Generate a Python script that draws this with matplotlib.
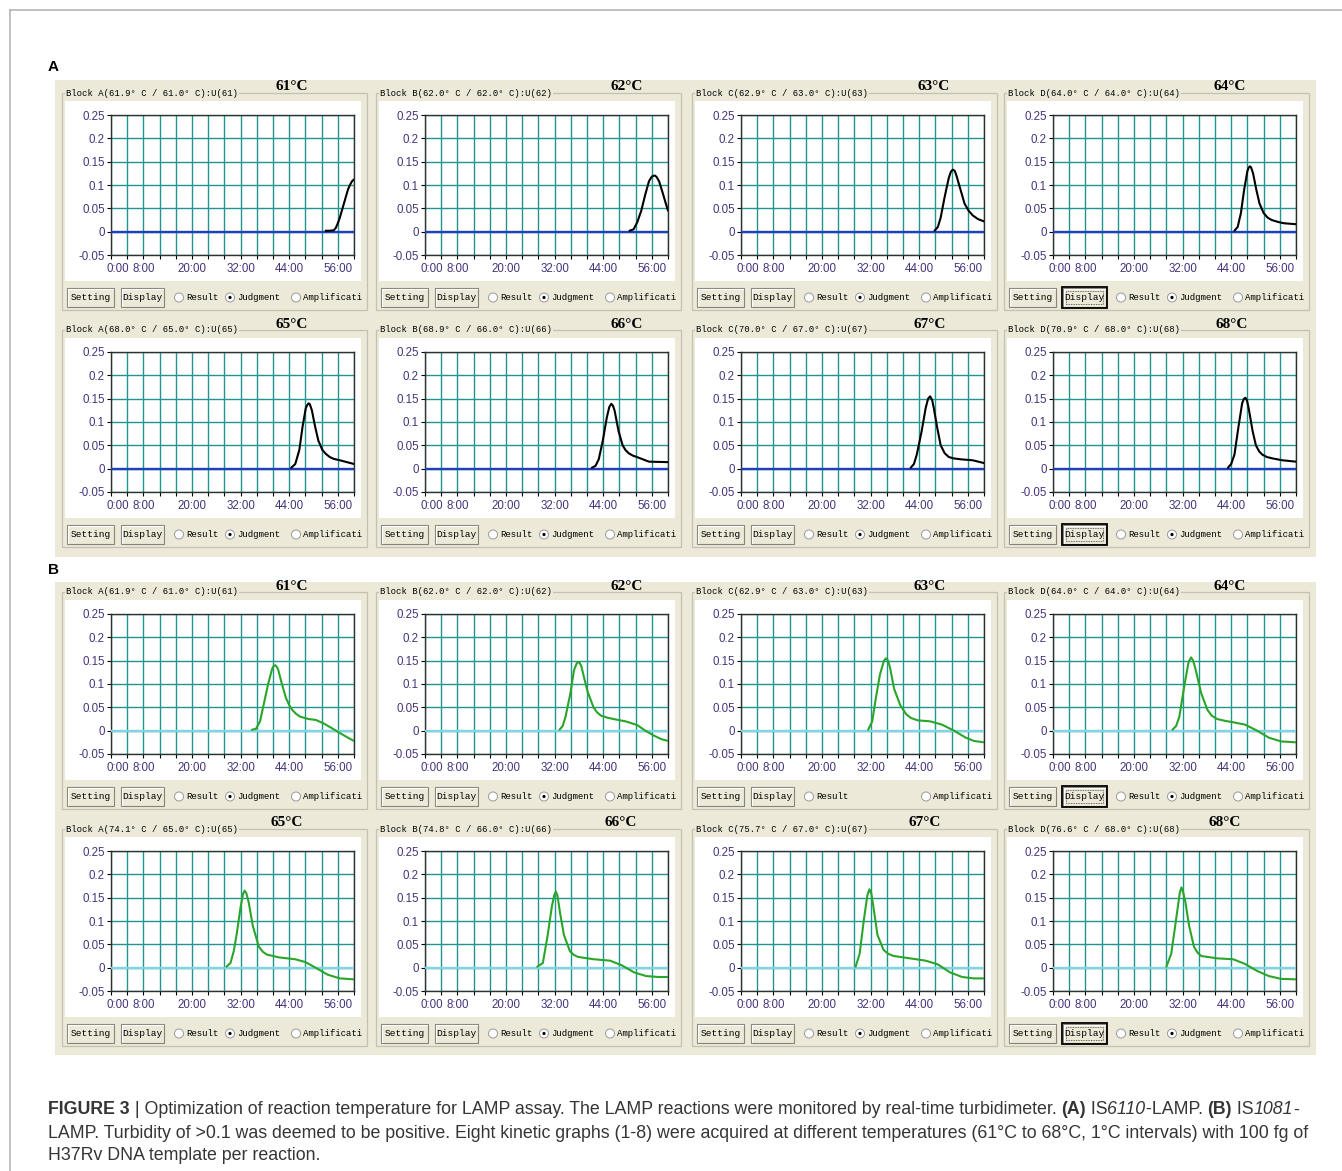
import numpy as np
import matplotlib
matplotlib.use("Agg")
import matplotlib.pyplot as plt
from matplotlib.patches import Rectangle, Circle
from matplotlib.transforms import ScaledTranslation

# ── data (time in min, turbidity) ───────────────────────────────────────────
temps = ["61°C", "62°C", "63°C", "64°C", "65°C", "66°C", "67°C", "68°C"]

titles_a = [
    "Block A(61.9° C / 61.0° C):U(61)", "Block B(62.0° C / 62.0° C):U(62)",
    "Block C(62.9° C / 63.0° C):U(63)", "Block D(64.0° C / 64.0° C):U(64)",
    "Block A(68.0° C / 65.0° C):U(65)", "Block B(68.9° C / 66.0° C):U(66)",
    "Block C(70.0° C / 67.0° C):U(67)", "Block D(70.9° C / 68.0° C):U(68)",
]
titles_b = [
    "Block A(61.9° C / 61.0° C):U(61)", "Block B(62.0° C / 62.0° C):U(62)",
    "Block C(62.9° C / 63.0° C):U(63)", "Block D(64.0° C / 64.0° C):U(64)",
    "Block A(74.1° C / 65.0° C):U(65)", "Block B(74.8° C / 66.0° C):U(66)",
    "Block C(75.7° C / 67.0° C):U(67)", "Block D(76.6° C / 68.0° C):U(68)",
]

x_tick_labels = {0: "0:00", 8: "8:00", 20: "20:00", 32: "32:00", 44: "44:00", 56: "56:00"}
y_ticks = [-0.05, 0, 0.05, 0.1, 0.15, 0.2, 0.25]
y_tick_labels = ["-0.05", "0", "0.05", "0.1", "0.15", "0.2", "0.25"]

# (A) IS6110-LAMP
a61_t = [53, 54, 55, 55.5, 56, 56.5, 57, 57.5, 58, 58.5, 59, 59.5, 60]
a61_v = [0.002, 0.002, 0.003, 0.008, 0.018, 0.03, 0.045, 0.06, 0.075, 0.09, 0.1, 0.108, 0.112]
a62_t = [50.5, 51.5, 52.4, 53.4, 54.4, 55.3, 56, 56.5, 56.8, 57.2, 57.8, 58.8, 59.4, 60]
a62_v = [0.002, 0.005, 0.02, 0.045, 0.08, 0.108, 0.118, 0.12, 0.12, 0.117, 0.108, 0.08, 0.062, 0.045]
a63_t = [47.8, 48.6, 49.3, 50.3, 51.3, 51.8, 52.3, 52.8, 53.2, 54.2, 55.2, 56.2, 57.2, 58.5, 60]
a63_v = [0.002, 0.01, 0.03, 0.075, 0.115, 0.128, 0.133, 0.13, 0.12, 0.09, 0.06, 0.045, 0.035, 0.027, 0.022]
a64_t = [44.8, 45.6, 46.4, 47.2, 48, 48.3, 48.6, 48.9, 49.4, 50.2, 51, 52, 53, 54, 55.5, 57, 60]
a64_v = [0.002, 0.01, 0.04, 0.09, 0.13, 0.137, 0.14, 0.138, 0.125, 0.09, 0.06, 0.04, 0.03, 0.025, 0.021, 0.018, 0.016]
a65_t = [44.5, 45.5, 46.5, 47.3, 48.1, 48.5, 48.8, 49.1, 49.6, 50.4, 51.2, 52.2, 53, 54, 55, 56.5, 60]
a65_v = [0.002, 0.01, 0.04, 0.09, 0.13, 0.137, 0.14, 0.138, 0.125, 0.09, 0.06, 0.04, 0.032, 0.025, 0.021, 0.018, 0.01]
a66_t = [41.2, 42.1, 42.9, 43.9, 44.9, 45.5, 46.0, 46.4, 46.8, 47.8, 48.8, 49.5, 50.3, 51.3, 52.3, 55.3, 60]
a66_v = [0.002, 0.006, 0.02, 0.06, 0.11, 0.132, 0.139, 0.135, 0.125, 0.08, 0.05, 0.04, 0.033, 0.028, 0.025, 0.015, 0.014]
a67_t = [41.9, 42.7, 43.4, 44.6, 45.6, 46.2, 46.7, 47.2, 47.6, 48.4, 49.3, 50.3, 51.3, 52.5, 54.3, 57.2, 60]
a67_v = [0.002, 0.01, 0.03, 0.08, 0.13, 0.15, 0.155, 0.147, 0.13, 0.09, 0.05, 0.033, 0.025, 0.022, 0.02, 0.018, 0.012]
a68_t = [43.2, 44.0, 44.8, 45.8, 46.7, 47.1, 47.5, 47.9, 48.3, 49.3, 50.1, 50.9, 51.7, 52.8, 54.2, 56.6, 60]
a68_v = [0.002, 0.01, 0.03, 0.09, 0.14, 0.149, 0.152, 0.146, 0.13, 0.08, 0.05, 0.037, 0.03, 0.025, 0.022, 0.018, 0.015]

# (B) IS1081-LAMP
b61_t = [34.8, 35.8, 36.8, 37.8, 38.8, 39.8, 40.2, 40.6, 41.0, 41.3, 42.2, 43.2, 44.0, 44.7, 45.7,
         46.7, 48.7, 50.6, 52.6, 54.6, 56.5, 58.5, 60]
b61_v = [0.002, 0.004, 0.02, 0.06, 0.1, 0.133, 0.139, 0.14, 0.136, 0.13, 0.1, 0.07, 0.055, 0.045, 0.036,
         0.03, 0.025, 0.023, 0.015, 0.005, -0.005, -0.015, -0.022]
b62_t = [33.2, 34.0, 34.7, 35.9, 36.8, 37.5, 38.1, 38.6, 39.1, 40.1, 41.6, 42.5, 43.5, 45, 46.5,
         49.5, 52.4, 54.4, 56.4, 58.3, 60]
b62_v = [0.002, 0.01, 0.03, 0.08, 0.13, 0.145, 0.147, 0.138, 0.12, 0.085, 0.05, 0.039, 0.032, 0.028, 0.025,
         0.02, 0.012, 0.0, -0.01, -0.018, -0.022]
b63_t = [31.4, 32.4, 33.3, 34.3, 35.3, 35.8, 36.3, 36.8, 37.8, 39.3, 40.8, 42, 43.7, 46.7, 49.6,
         52.6, 55.5, 57.5, 60]
b63_v = [0.002, 0.02, 0.07, 0.12, 0.15, 0.155, 0.15, 0.135, 0.09, 0.055, 0.035, 0.027, 0.022, 0.02, 0.013,
         0.0, -0.015, -0.022, -0.025]
b64_t = [29.5, 30.4, 31.2, 32.5, 33.5, 34.1, 34.6, 35.1, 36.6, 38.1, 39.2, 40.5, 42.5, 44.5, 47.4,
         50.4, 53.3, 56.3, 60]
b64_v = [0.002, 0.01, 0.03, 0.1, 0.148, 0.157, 0.15, 0.135, 0.08, 0.045, 0.032, 0.025, 0.021, 0.018, 0.013,
         0.0, -0.015, -0.023, -0.025]
b65_t = [28.5, 29.5, 30.3, 31, 32, 32.6, 33, 33.4, 34, 35, 36.5, 37.5, 38.5, 41.5, 45.5,
         48, 50.5, 53.5, 56.5, 60]
b65_v = [0.002, 0.01, 0.035, 0.07, 0.13, 0.158, 0.165, 0.16, 0.14, 0.09, 0.045, 0.034, 0.028, 0.022, 0.018,
         0.012, 0.0, -0.015, -0.023, -0.025]
b66_t = [27.7, 29.1, 30.3, 31.3, 31.9, 32.3, 32.7, 33.3, 34.3, 35.8, 36.8, 37.8, 41.7, 45.7, 48.6,
         51.6, 54.6, 57.6, 60]
b66_v = [0.002, 0.01, 0.07, 0.13, 0.155, 0.163, 0.155, 0.12, 0.07, 0.035, 0.027, 0.023, 0.018, 0.015, 0.005,
         -0.01, -0.018, -0.02, -0.02]
b67_t = [28.3, 29.3, 30.3, 31.2, 31.7, 32.2, 32.7, 33.7, 35.2, 36.3, 37.7, 41.7, 45.6, 48.6, 51.6,
         54.6, 57.5, 60]
b67_v = [0.002, 0.03, 0.1, 0.155, 0.168, 0.158, 0.13, 0.07, 0.038, 0.03, 0.025, 0.02, 0.015, 0.007, -0.01,
         -0.02, -0.023, -0.023]
b68_t = [28.0, 29.2, 30.5, 31.3, 31.7, 32.1, 32.7, 33.6, 34.8, 35.7, 36.6, 40.5, 44.5, 47.4, 50.4,
         53.3, 56.3, 60]
b68_v = [0.002, 0.03, 0.11, 0.16, 0.172, 0.163, 0.14, 0.09, 0.045, 0.032, 0.025, 0.02, 0.018, 0.008, -0.007,
         -0.018, -0.024, -0.025]

curves_a = [(a61_t, a61_v), (a62_t, a62_v), (a63_t, a63_v), (a64_t, a64_v),
            (a65_t, a65_v), (a66_t, a66_v), (a67_t, a67_v), (a68_t, a68_v)]
curves_b = [(b61_t, b61_v), (b62_t, b62_v), (b63_t, b63_v), (b64_t, b64_v),
            (b65_t, b65_v), (b66_t, b66_v), (b67_t, b67_v), (b68_t, b68_v)]

# ── layout (pixels) ─────────────────────────────────────────────────────────
W, H, DPI = 1342, 1171, 100
BEIGE = "#ECE9D8"
GRID = "#1f9590"
TICKC = "#45347a"
MONO = "Liberation Mono"

sec_top = [80, 582]
sec_h = [477, 473]
ax_top = [[115, 352], [614, 851]]
ax_left = [111, 425, 741, 1053]
AX_W, AX_H = 243, 140
temp_x = [[[292, 627, 934, 1230], [292, 627, 930, 1232]],
          [[292, 627, 930, 1230], [287, 621, 925, 1225]]]

fig = plt.figure(figsize=(W / DPI, H / DPI), dpi=DPI)
bg = fig.add_axes([0, 0, 1, 1], zorder=0)
bg.set_xlim(0, W)
bg.set_ylim(H, 0)
bg.axis("off")

bg.plot([10, W], [10, 10], color="#b5b5b5", lw=1.2)
bg.plot([10, 10], [10, H], color="#b5b5b5", lw=1.2)

for s, lab in enumerate(["A", "B"]):
    bg.add_patch(Rectangle((55, sec_top[s]), 1261, sec_h[s], fc=BEIGE, ec="none"))
    bg.text(48, [67, 570][s], lab, fontsize=11, fontweight="bold",
            family="Liberation Sans", ha="left", va="center")


def button(x, y, w, h, label, focused=False):
    bg.add_patch(Rectangle((x, y), w, h, fc=BEIGE, ec="#85837a", lw=0.8))
    bg.plot([x + 1, x + 1, x + w - 1], [y + h - 1, y + 1, y + 1], color="white", lw=0.8)
    if focused:
        bg.add_patch(Rectangle((x - 1, y - 1), w + 2, h + 2, fill=False, ec="black", lw=1.3))
        bg.add_patch(Rectangle((x + 3, y + 3), w - 6, h - 6, fill=False, ec="#444",
                               lw=0.6, ls=(0, (1, 1))))
    bg.text(x + w / 2, y + h / 2, label, fontsize=6.8, family=MONO,
            ha="center", va="center")


def radio(cx, cy, label, selected=False):
    bg.add_patch(Circle((cx, cy), 4.5, fc="white", ec="#9a9a9a", lw=0.7))
    if selected:
        bg.add_patch(Circle((cx, cy), 1.6, fc="black", ec="none"))
    bg.text(cx + 7, cy, label, fontsize=6.5, family=MONO, ha="left", va="center")


for s in range(2):
    titles = [titles_a, titles_b][s]
    curves = [curves_a, curves_b][s]
    line_col = ["black", "#2aa52a"][s]
    base_col = ["#1f3fbf", "#80d4e4"][s]
    for r in range(2):
        for c in range(4):
            k = r * 4 + c
            top = ax_top[s][r]
            left = ax_left[c]
            px0 = left - 56

            # group box + white plot area
            bg.add_patch(Rectangle((px0 + 7, top - 22), 305, 217, fill=False,
                                   ec="#c4c1b2", lw=0.9))
            bg.text(px0 + 11, top - 22, titles[k], fontsize=6.4, family=MONO,
                    ha="left", va="center",
                    bbox=dict(fc=BEIGE, ec="none", pad=1))
            bg.text(temp_x[s][r][c], top - 28, temps[k], fontsize=11,
                    fontweight="bold", family="Liberation Serif",
                    ha="center", va="center")
            bg.add_patch(Rectangle((px0 + 10, top - 14), 296, 180, fc="white", ec="none"))

            # buttons / radio row
            by = top + 173
            button(px0 + 12, by, 47, 19, "Setting")
            button(px0 + 66, by, 43, 19, "Display", focused=(c == 3))
            radio(px0 + 124, by + 9.5, "Result")
            if not (s == 1 and r == 0 and c == 2):
                radio(px0 + 175, by + 9.5, "Judgment", selected=True)
            radio(px0 + 241, by + 9.5, "Amplificati")

            # the kinetic graph itself
            ax = fig.add_axes([left / W, 1 - (top + AX_H) / H, AX_W / W, AX_H / H], zorder=2)
            ax.set_xlim(0, 60)
            ax.set_ylim(-0.05, 0.25)
            xt = np.arange(0, 61, 4)
            ax.set_xticks(xt)
            ax.set_xticklabels([x_tick_labels.get(int(v), "") for v in xt])
            ax.set_yticks(y_ticks)
            ax.set_yticklabels(y_tick_labels)
            ax.grid(True, color=GRID, lw=1.0)
            ax.set_axisbelow(True)
            ax.axhline(0, color=base_col, lw=1.7, zorder=3)
            t, v = curves[k]
            ax.plot(t, v, color=line_col, lw=1.5, zorder=4,
                    solid_joinstyle="round", solid_capstyle="round")
            ax.tick_params(length=3, width=0.8, labelsize=8.3, labelcolor=TICKC)
            ax.tick_params(axis="x", pad=3)
            ax.tick_params(axis="y", pad=1.5)
            for lbl in ax.get_xticklabels() + ax.get_yticklabels():
                lbl.set_family("Liberation Sans")
            t0 = ax.xaxis.get_major_ticks()[0].label1
            t0.set_transform(t0.get_transform() + ScaledTranslation(0.07, 0, fig.dpi_scale_trans))
            for sp in ax.spines.values():
                sp.set_color("#303030")
                sp.set_linewidth(1.0)

# ── caption ─────────────────────────────────────────────────────────────────
renderer = fig.canvas.get_renderer()
cap_lines = [
    [("FIGURE 3", "bold", "normal"),
     (" | Optimization of reaction temperature for LAMP assay. The LAMP reactions were "
      "monitored by real-time turbidimeter. ", "normal", "normal"),
     ("(A)", "bold", "normal"), (" IS", "normal", "normal"), ("6110", "normal", "italic"),
     ("-LAMP. ", "normal", "normal"), ("(B)", "bold", "normal"),
     (" IS", "normal", "normal"), ("1081", "normal", "italic"), ("-", "normal", "normal")],
    [("LAMP. Turbidity of >0.1 was deemed to be positive. Eight kinetic graphs (1-8) were "
      "acquired at different temperatures (61°C to 68°C, 1°C intervals) with 100 fg of",
      "normal", "normal")],
    [("H37Rv DNA template per reaction.", "normal", "normal")],
]
cap_y = [1110, 1133, 1156]


def draw_runs(y, runs, size):
    x = 48
    for txt, wt, st in runs:
        tt = bg.text(x, y, txt, fontsize=size, fontweight=wt, fontstyle=st,
                     family="Liberation Sans", color="#353535", ha="left", va="center")
        x += tt.get_window_extent(renderer).width
    return x


# size the caption so the first line spans the same width as the original
probe = draw_runs(-100, cap_lines[0], 10) - 48
for tx in list(bg.texts):
    if tx.get_position()[1] == -100:
        tx.remove()
cap_size = 10 * 1257 / probe
for y, runs in zip(cap_y, cap_lines):
    draw_runs(y, runs, cap_size)

fig.savefig("out.png", dpi=DPI)
